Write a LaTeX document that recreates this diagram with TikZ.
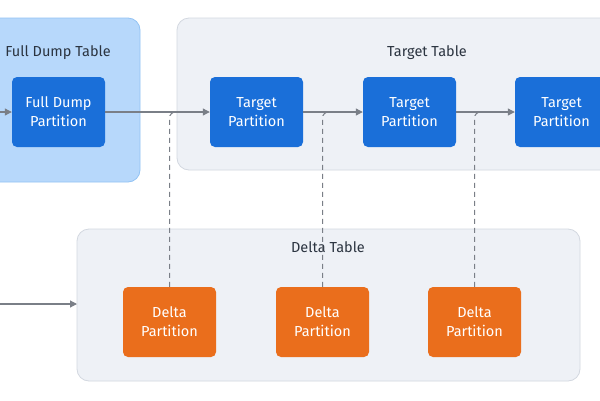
\documentclass[tikz,border=0pt]{standalone}
\usepackage{fontspec}
\setmainfont{Fira Sans}
\usetikzlibrary{arrows.meta}
\definecolor{fdfill}{HTML}{B7D8FB}
\definecolor{fdline}{HTML}{93C3F4}
\definecolor{grayfill}{HTML}{EEF1F6}
\definecolor{grayline}{HTML}{D3D8E0}
\definecolor{blue}{HTML}{1A6FD9}
\definecolor{orange}{HTML}{EA6E1C}
\definecolor{conn}{HTML}{7A7F87}
\definecolor{title}{HTML}{2B3440}
\begin{document}
\begin{tikzpicture}[x=1pt,y=-1pt,
  cont/.style={rounded corners=12pt,line width=0.8pt},
  part/.style={rounded corners=5pt,minimum width=93pt,minimum height=70pt,text=white,align=center,font=\fontsize{14.5}{19}\selectfont},
  bp/.style={part,fill=blue},
  op/.style={part,fill=orange},
  ttl/.style={text=title,font=\fontsize{14.5}{18}\selectfont},
  arr/.style={draw=conn,line width=1.1pt,-{Triangle[length=7pt,width=7pt]}},
  dsh/.style={draw=conn,line width=1pt,dash pattern=on 5pt off 4pt,rounded corners=6pt}]
\useasboundingbox (0,0) rectangle (600,400);
\fill[white] (0,0) rectangle (600,400);
\draw[cont,fill=fdfill,draw=fdline] (-20,18) rectangle (140,182);
\draw[cont,fill=grayfill,draw=grayline] (177,18) rectangle (620,170);
\draw[cont,fill=grayfill,draw=grayline] (77,229) rectangle (580,381);
\node[ttl] (t1) at (58,53) {Full Dump Table};
\node[ttl] (t2) at (427,53) {Target Table};
\node[ttl] (t3) at (328,247) {Delta Table};
\node[bp] (fd) at (58.5,112) {Full Dump\\Partition};
\node[bp] (tp1) at (256.5,112) {Target\\Partition};
\node[bp] (tp2) at (409.5,112) {Target\\Partition};
\node[bp] (tp3) at (561.5,112) {Target\\Partition};
\node[op] (dp1) at (169.5,322) {Delta\\Partition};
\node[op] (dp2) at (322.5,322) {Delta\\Partition};
\node[op] (dp3) at (474.5,322) {Delta\\Partition};
\coordinate (in1) at (0,112);
\coordinate (in2) at (0,304);
\draw[arr] (in1) -- (fd.west);
\draw[arr] (in2) -- (77,304);
\draw[arr] (fd.east) -- (tp1.west);
\draw[arr] (tp1.east) -- (tp2.west);
\draw[arr] (tp2.east) -- (tp3.west);
\draw[dsh] (dp1.north) -- (dp1.north |- 0,112) -- ++(10,0);
\draw[dsh] (dp2.north) -- (dp2.north |- 0,112) -- ++(10,0);
\draw[dsh] (dp3.north) -- (dp3.north |- 0,112) -- ++(10,0);
\end{tikzpicture}
\end{document}
